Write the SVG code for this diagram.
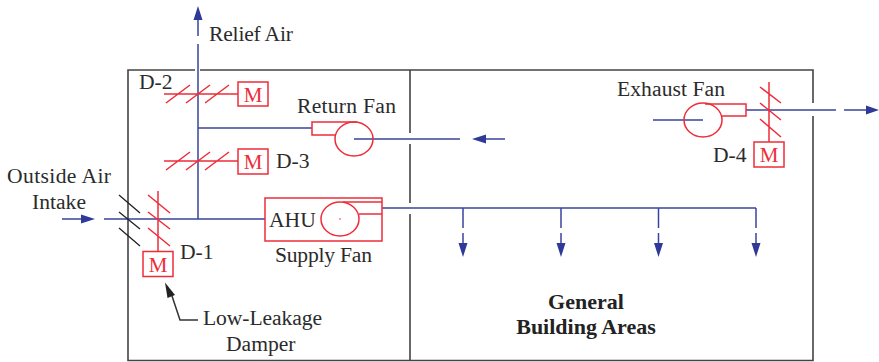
<svg xmlns="http://www.w3.org/2000/svg" width="879" height="362" viewBox="0 0 879 362">
<defs>
<style>
text{font-family:"Liberation Serif","DejaVu Serif",serif;font-size:21.6px;fill:#2b2b2b}
.b{font-weight:bold;font-size:22px;text-anchor:middle;fill:#222}
.m{fill:#ee2d3a;text-anchor:middle;font-size:21px}
.c{text-anchor:middle}
.wall{fill:none;stroke:#444;stroke-width:1.6}
.duct{fill:none;stroke:#3a449c;stroke-width:1.5}
.head{fill:#2f3a98;stroke:none}
.red{fill:none;stroke:#ee2d3a;stroke-width:1.5}
.blk{fill:none;stroke:#222;stroke-width:1.3}
</style>
</defs>
<rect width="879" height="362" fill="#fff"/>
<g id="building">
<path class="wall" d="M195 70H128V360.500H813V116M813 103V70H200"/>
<path class="wall" d="M410 70V133M410 144V203M410 214V360"/>
</g>
<g id="connectors">
<path class="duct" d="M198 36V18M198 44V219M198 128H312M104 219H265M62 219H83M354 139H460M486 139H505M382 208H756M463 208V228M463 233V245M561 208V228M561 233V245M658.500 208V228M658.500 233V245M756 208V228M756 233V245M653 120H703M746 110H836M844 110H868"/>
<path class="head" d="M198 6L202.500 20H193.500ZM95 219L81 214.500V223.500ZM472 139L486 134.500V143.500ZM463 257L458.500 243H467.500ZM561 257L556.500 243H565.500ZM658.500 257L654 243H663ZM756 257L751.500 243H760.500ZM879 110L866 105.500V114.500Z"/>
<path fill="none" stroke="#333" stroke-width="1.5" d="M172 296L180 320H198"/>
<path fill="#222" d="M165 282.500L175 295L167.500 298Z"/>
</g>
<g id="outside-louver"><path class="blk" d="M119 195L140 213M119 212L140 229M119 228L140 246"/></g>
<g id="d1">
<path class="red" d="M158 191V251M148 195L170 213M148 212L170 229M148 228L170 246"/>
<rect class="red" x="143" y="251.500" width="30" height="25"/>
<text class="m" x="158" y="272">M</text>
</g>
<g id="d2">
<path class="red" d="M164 94H238M166 103L190 85M186 103L210 85M205 103L229 85"/>
<rect class="red" x="238" y="82" width="30" height="24"/>
<text class="m" x="253" y="102">M</text>
</g>
<g id="d3">
<path class="red" d="M164 161H238M166 170L190 152M186 170L210 152M205 170L229 152"/>
<rect class="red" x="238" y="149" width="30" height="25"/>
<text class="m" x="253" y="169">M</text>
</g>
<g id="d4">
<path class="red" d="M769 82V142M760 87L781 103M760 103L781 120M760 119L781 137"/>
<rect class="red" x="754" y="142" width="30" height="25"/>
<text class="m" x="769" y="162">M</text>
</g>
<g id="return-fan">
<ellipse class="red" cx="354" cy="139" rx="19" ry="17"/>
<path class="red" d="M357 122H312V135H336"/>
</g>
<g id="ahu">
<rect class="red" x="265" y="198" width="117" height="43"/>
<ellipse class="red" cx="340" cy="219" rx="19" ry="17"/>
<path class="red" d="M343 202H382M382 214H359"/>
<circle cx="340" cy="219" r="0.800" fill="#ee2d3a"/>
<text x="269" y="227">AHU</text>
</g>
<g id="exhaust-fan">
<ellipse class="red" cx="703" cy="120" rx="19" ry="17"/>
<path class="red" d="M705 104H746V116H722"/>
</g>
<g id="labels">
<text x="209" y="41" textLength="84">Relief Air</text>
<text x="139" y="89">D-2</text>
<text x="276" y="168">D-3</text>
<text x="297" y="113" textLength="99">Return Fan</text>
<text x="7" y="183" textLength="104">Outside Air</text>
<text class="c" x="59" y="209">Intake</text>
<text x="180" y="259">D-1</text>
<text x="275" y="262" textLength="97">Supply Fan</text>
<text x="203" y="325" textLength="119">Low-Leakage</text>
<text x="226" y="351">Damper</text>
<text x="617" y="96" textLength="108">Exhaust Fan</text>
<text x="713" y="162">D-4</text>
<text class="b" x="586" y="309">General</text>
<text class="b" x="586" y="334">Building Areas</text>
</g>
</svg>
